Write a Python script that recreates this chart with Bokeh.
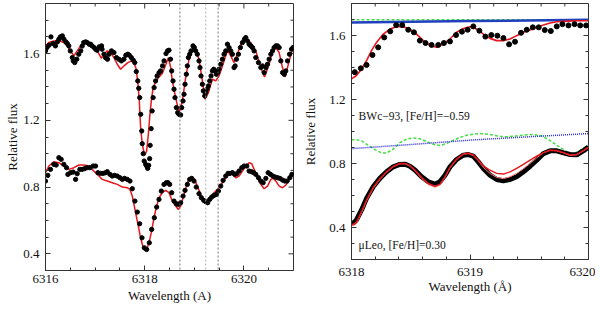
import math
from bokeh.plotting import figure
from bokeh.layouts import row
from bokeh.models import FixedTicker, Span, Range1d
from bokeh.embed import file_html
from bokeh.resources import INLINE
from bokeh.core.properties import value

# ---------------- data ----------------
# Left panel, upper spectrum: observed points and model
left_upper_obs = [
    (6316.00, 1.616), (6316.03, 1.636), (6316.07, 1.650), (6316.11, 1.700), (6316.15, 1.660),
    (6316.20, 1.646), (6316.24, 1.670), (6316.27, 1.686), (6316.30, 1.700), (6316.34, 1.706),
    (6316.37, 1.686), (6316.41, 1.670), (6316.44, 1.660), (6316.47, 1.646), (6316.50, 1.616),
    (6316.54, 1.576), (6316.56, 1.556), (6316.59, 1.546), (6316.63, 1.566), (6316.67, 1.596),
    (6316.71, 1.616), (6316.74, 1.645), (6316.77, 1.666), (6316.81, 1.670), (6316.84, 1.666),
    (6316.88, 1.656), (6316.91, 1.656), (6316.94, 1.646), (6316.98, 1.636), (6317.01, 1.626),
    (6317.04, 1.620), (6317.08, 1.640), (6317.13, 1.646), (6317.14, 1.626), (6317.18, 1.596),
    (6317.21, 1.576), (6317.25, 1.566), (6317.28, 1.596), (6317.33, 1.616), (6317.38, 1.606),
    (6317.43, 1.576), (6317.48, 1.566), (6317.53, 1.556), (6317.58, 1.566), (6317.62, 1.590),
    (6317.66, 1.596), (6317.69, 1.590), (6317.73, 1.576), (6317.77, 1.560), (6317.80, 1.546),
    (6317.83, 1.492), (6317.86, 1.436), (6317.88, 1.392), (6317.90, 1.336), (6317.92, 1.236),
    (6317.94, 1.136), (6317.95, 1.060), (6317.97, 1.000), (6317.99, 0.956), (6318.02, 0.936),
    (6318.04, 0.926), (6318.06, 0.912), (6318.08, 0.930), (6318.10, 0.970), (6318.11, 1.050),
    (6318.13, 1.150), (6318.15, 1.256), (6318.17, 1.336), (6318.19, 1.396), (6318.22, 1.436),
    (6318.25, 1.466), (6318.29, 1.486), (6318.32, 1.496), (6318.36, 1.526), (6318.39, 1.556),
    (6318.43, 1.600), (6318.46, 1.616), (6318.49, 1.620), (6318.52, 1.566), (6318.544, 1.496),
    (6318.571, 1.436), (6318.591, 1.386), (6318.611, 1.336), (6318.638, 1.276), (6318.665, 1.246),
    (6318.692, 1.236), (6318.725, 1.232), (6318.746, 1.276), (6318.773, 1.316), (6318.793, 1.356),
    (6318.813, 1.416), (6318.840, 1.476), (6318.860, 1.526), (6318.881, 1.576), (6318.907, 1.596),
    (6318.934, 1.616), (6318.974, 1.646), (6319.001, 1.636), (6319.028, 1.616), (6319.061, 1.596),
    (6319.095, 1.556), (6319.115, 1.516), (6319.135, 1.466), (6319.163, 1.416), (6319.183, 1.376),
    (6319.210, 1.346), (6319.230, 1.366), (6319.257, 1.386), (6319.284, 1.406), (6319.311, 1.436),
    (6319.338, 1.466), (6319.365, 1.496), (6319.392, 1.506), (6319.419, 1.496), (6319.445, 1.476),
    (6319.472, 1.486), (6319.499, 1.506), (6319.533, 1.536), (6319.567, 1.566), (6319.600, 1.596),
    (6319.634, 1.616), (6319.668, 1.656), (6319.701, 1.636), (6319.735, 1.616), (6319.769, 1.596),
    (6319.802, 1.516), (6319.823, 1.526), (6319.850, 1.566), (6319.890, 1.596), (6319.930, 1.636),
    (6319.971, 1.666), (6320.011, 1.686), (6320.038, 1.696), (6320.071, 1.676), (6320.105, 1.656),
    (6320.139, 1.646), (6320.172, 1.636), (6320.206, 1.616), (6320.240, 1.576), (6320.294, 1.546),
    (6320.341, 1.516), (6320.375, 1.526), (6320.408, 1.486), (6320.442, 1.516), (6320.476, 1.536),
    (6320.509, 1.566), (6320.543, 1.596), (6320.577, 1.616), (6320.610, 1.636), (6320.644, 1.646),
    (6320.678, 1.646), (6320.711, 1.636), (6320.745, 1.556), (6320.780, 1.486), (6320.812, 1.476),
    (6320.845, 1.496), (6320.880, 1.556), (6320.920, 1.596), (6320.960, 1.626), (6320.990, 1.636),
]
left_upper_model = [
    (6316.000, 1.646), (6316.067, 1.666), (6316.168, 1.676), (6316.269, 1.676), (6316.370, 1.666),
    (6316.437, 1.646), (6316.505, 1.616), (6316.572, 1.586), (6316.639, 1.616), (6316.707, 1.646),
    (6316.808, 1.666), (6316.908, 1.660), (6316.976, 1.646), (6317.043, 1.616), (6317.124, 1.572),
    (6317.178, 1.596), (6317.245, 1.616), (6317.312, 1.606), (6317.380, 1.576), (6317.447, 1.536),
    (6317.514, 1.506), (6317.581, 1.526), (6317.662, 1.546), (6317.729, 1.556), (6317.783, 1.546),
    (6317.830, 1.506), (6317.864, 1.416), (6317.891, 1.316), (6317.918, 1.156), (6317.945, 1.076),
    (6317.972, 1.026), (6318.005, 0.992), (6318.039, 1.016), (6318.073, 1.116), (6318.106, 1.236),
    (6318.140, 1.336), (6318.174, 1.400), (6318.220, 1.430), (6318.290, 1.460), (6318.355, 1.480),
    (6318.420, 1.530), (6318.477, 1.575), (6318.524, 1.516), (6318.557, 1.436), (6318.624, 1.336),
    (6318.678, 1.266), (6318.705, 1.256), (6318.760, 1.316), (6318.826, 1.456), (6318.894, 1.566),
    (6318.960, 1.616), (6319.028, 1.620), (6319.095, 1.566), (6319.163, 1.436), (6319.216, 1.326),
    (6319.284, 1.366), (6319.365, 1.446), (6319.432, 1.436), (6319.499, 1.466), (6319.600, 1.556),
    (6319.668, 1.620), (6319.735, 1.586), (6319.802, 1.546), (6319.869, 1.596), (6319.937, 1.656),
    (6320.038, 1.680), (6320.139, 1.666), (6320.240, 1.616), (6320.341, 1.516), (6320.415, 1.460),
    (6320.509, 1.536), (6320.577, 1.616), (6320.644, 1.636), (6320.711, 1.606), (6320.778, 1.516),
    (6320.832, 1.460), (6320.913, 1.556), (6320.980, 1.626), (6321.000, 1.640),
]
# Left panel, lower spectrum
left_lower_obs = [
    (6316.000, 0.836), (6316.047, 0.870), (6316.100, 0.906), (6316.168, 0.936), (6316.215, 0.932),
    (6316.269, 0.976), (6316.316, 0.966), (6316.370, 0.936), (6316.424, 0.916), (6316.451, 0.876),
    (6316.505, 0.886), (6316.559, 0.890), (6316.606, 0.846), (6316.639, 0.880), (6316.693, 0.906),
    (6316.740, 0.906), (6316.787, 0.910), (6316.841, 0.916), (6316.895, 0.916), (6316.962, 0.926),
    (6317.009, 0.926), (6317.057, 0.886), (6317.110, 0.882), (6317.164, 0.882), (6317.211, 0.886),
    (6317.245, 0.892), (6317.299, 0.876), (6317.346, 0.866), (6317.393, 0.870), (6317.447, 0.866),
    (6317.500, 0.856), (6317.548, 0.846), (6317.595, 0.852), (6317.649, 0.846), (6317.703, 0.836),
    (6317.750, 0.790), (6317.803, 0.716), (6317.851, 0.650), (6317.898, 0.580), (6317.945, 0.496),
    (6317.992, 0.436), (6318.039, 0.426), (6318.093, 0.466), (6318.140, 0.546), (6318.194, 0.616),
    (6318.241, 0.680), (6318.288, 0.726), (6318.335, 0.776), (6318.389, 0.816), (6318.436, 0.826),
    (6318.470, 0.826), (6318.503, 0.816), (6318.544, 0.766), (6318.591, 0.716), (6318.638, 0.700),
    (6318.678, 0.696), (6318.725, 0.706), (6318.773, 0.746), (6318.813, 0.780), (6318.860, 0.816),
    (6318.907, 0.846), (6318.947, 0.852), (6318.994, 0.836), (6319.040, 0.800), (6319.095, 0.760),
    (6319.142, 0.736), (6319.190, 0.720), (6319.230, 0.712), (6319.270, 0.706), (6319.311, 0.726),
    (6319.351, 0.740), (6319.398, 0.750), (6319.445, 0.756), (6319.486, 0.776), (6319.533, 0.806),
    (6319.580, 0.840), (6319.634, 0.866), (6319.681, 0.882), (6319.721, 0.882), (6319.769, 0.886),
    (6319.816, 0.876), (6319.856, 0.880), (6319.903, 0.896), (6319.957, 0.916), (6320.004, 0.926),
    (6320.058, 0.926), (6320.105, 0.896), (6320.152, 0.892), (6320.199, 0.886), (6320.240, 0.876),
    (6320.294, 0.856), (6320.341, 0.836), (6320.388, 0.826), (6320.442, 0.852), (6320.489, 0.886),
    (6320.536, 0.876), (6320.583, 0.866), (6320.630, 0.860), (6320.678, 0.856), (6320.725, 0.852),
    (6320.778, 0.842), (6320.825, 0.836), (6320.872, 0.836), (6320.926, 0.856), (6320.967, 0.876),
]
left_lower_model = [
    (6316.000, 0.886), (6316.067, 0.926), (6316.168, 0.952), (6316.269, 0.946), (6316.370, 0.926),
    (6316.471, 0.906), (6316.572, 0.916), (6316.673, 0.932), (6316.774, 0.932), (6316.875, 0.926),
    (6316.942, 0.906), (6317.009, 0.886), (6317.077, 0.866), (6317.144, 0.846), (6317.245, 0.836),
    (6317.346, 0.826), (6317.447, 0.816), (6317.548, 0.800), (6317.649, 0.796), (6317.703, 0.786),
    (6317.750, 0.746), (6317.797, 0.676), (6317.851, 0.596), (6317.904, 0.516), (6317.952, 0.456),
    (6317.999, 0.420), (6318.039, 0.426), (6318.086, 0.466), (6318.140, 0.536), (6318.187, 0.616),
    (6318.241, 0.686), (6318.288, 0.736), (6318.355, 0.766), (6318.423, 0.780), (6318.490, 0.766),
    (6318.557, 0.716), (6318.624, 0.686), (6318.678, 0.666), (6318.725, 0.686), (6318.793, 0.756),
    (6318.860, 0.826), (6318.927, 0.856), (6318.994, 0.852), (6319.061, 0.806), (6319.128, 0.756),
    (6319.196, 0.720), (6319.243, 0.712), (6319.297, 0.726), (6319.365, 0.756), (6319.432, 0.776),
    (6319.499, 0.796), (6319.567, 0.826), (6319.634, 0.856), (6319.701, 0.880), (6319.769, 0.876),
    (6319.836, 0.856), (6319.903, 0.866), (6319.971, 0.896), (6320.038, 0.926), (6320.105, 0.946),
    (6320.159, 0.940), (6320.206, 0.906), (6320.273, 0.856), (6320.341, 0.816), (6320.408, 0.790),
    (6320.476, 0.806), (6320.543, 0.846), (6320.590, 0.852), (6320.644, 0.836), (6320.711, 0.806),
    (6320.778, 0.796), (6320.845, 0.812), (6320.913, 0.846), (6320.967, 0.866), (6321.000, 0.870),
]
line_positions = [6318.71, 6319.23, 6319.48]

# Right panel: BWc-93 (upper) and mu Leo (lower)
bwc_obs = [
    (6318.028, 1.371), (6318.079, 1.395), (6318.127, 1.416), (6318.177, 1.478), (6318.225, 1.526),
    (6318.276, 1.588), (6318.327, 1.626), (6318.377, 1.665), (6318.428, 1.665), (6318.479, 1.636),
    (6318.527, 1.620), (6318.577, 1.568), (6318.625, 1.553), (6318.676, 1.541), (6318.732, 1.541),
    (6318.780, 1.553), (6318.831, 1.563), (6318.882, 1.603), (6318.932, 1.624), (6318.980, 1.636),
    (6319.028, 1.657), (6319.079, 1.630), (6319.130, 1.593), (6319.180, 1.603), (6319.231, 1.599),
    (6319.282, 1.584), (6319.330, 1.545), (6319.380, 1.561), (6319.431, 1.617), (6319.479, 1.636),
    (6319.530, 1.651), (6319.580, 1.651), (6319.631, 1.634), (6319.682, 1.628), (6319.732, 1.657),
    (6319.780, 1.671), (6319.831, 1.663), (6319.882, 1.671), (6319.930, 1.663), (6319.980, 1.663),
]
bwc_model = [
    (6318.000, 1.329), (6318.042, 1.350), (6318.085, 1.391), (6318.127, 1.443), (6318.169, 1.505),
    (6318.211, 1.557), (6318.268, 1.609), (6318.324, 1.640), (6318.380, 1.655), (6318.437, 1.655),
    (6318.493, 1.640), (6318.549, 1.609), (6318.606, 1.568), (6318.662, 1.537), (6318.718, 1.526),
    (6318.775, 1.547), (6318.831, 1.578), (6318.887, 1.620), (6318.944, 1.644), (6319.000, 1.655),
    (6319.056, 1.640), (6319.113, 1.609), (6319.169, 1.582), (6319.225, 1.568), (6319.282, 1.568),
    (6319.338, 1.578), (6319.394, 1.599), (6319.451, 1.620), (6319.507, 1.634), (6319.563, 1.651),
    (6319.620, 1.665), (6319.676, 1.678), (6319.732, 1.686), (6319.789, 1.688), (6319.901, 1.692),
    (6320.000, 1.692),
]
bwc_blue = [(6318.0, 1.682), (6319.0, 1.690), (6320.0, 1.698)]
bwc_green = [(6318.0, 1.699), (6319.0, 1.698), (6320.0, 1.698)]

muleo_obs = [
    (6318.000, 0.437), (6318.014, 0.427), (6318.042, 0.447), (6318.085, 0.510), (6318.127, 0.582),
    (6318.183, 0.655), (6318.239, 0.707), (6318.296, 0.748), (6318.352, 0.779), (6318.408, 0.794),
    (6318.451, 0.796), (6318.493, 0.783), (6318.535, 0.759), (6318.592, 0.717), (6318.648, 0.686),
    (6318.704, 0.671), (6318.746, 0.686), (6318.789, 0.727), (6318.831, 0.779), (6318.887, 0.825),
    (6318.944, 0.852), (6318.986, 0.856), (6319.028, 0.846), (6319.070, 0.810), (6319.113, 0.769),
    (6319.169, 0.727), (6319.225, 0.700), (6319.282, 0.692), (6319.338, 0.700), (6319.394, 0.717),
    (6319.451, 0.748), (6319.507, 0.783), (6319.563, 0.821), (6319.620, 0.862), (6319.676, 0.879),
    (6319.732, 0.879), (6319.789, 0.866), (6319.845, 0.856), (6319.901, 0.854), (6319.958, 0.880),
    (6320.000, 0.904),
]
muleo_model_a = [
    (6318.000, 0.416), (6318.014, 0.410), (6318.042, 0.427), (6318.085, 0.493), (6318.127, 0.566),
    (6318.183, 0.644), (6318.239, 0.700), (6318.296, 0.744), (6318.352, 0.779), (6318.408, 0.798),
    (6318.451, 0.798), (6318.493, 0.783), (6318.535, 0.754), (6318.592, 0.707), (6318.648, 0.669),
    (6318.704, 0.651), (6318.746, 0.665), (6318.789, 0.713), (6318.831, 0.773), (6318.887, 0.825),
    (6318.944, 0.858), (6318.986, 0.862), (6319.028, 0.850), (6319.070, 0.817), (6319.113, 0.775),
    (6319.169, 0.738), (6319.225, 0.713), (6319.282, 0.705), (6319.338, 0.717), (6319.394, 0.738),
    (6319.451, 0.767), (6319.507, 0.800), (6319.563, 0.835), (6319.620, 0.868), (6319.676, 0.883),
    (6319.732, 0.879), (6319.789, 0.866), (6319.845, 0.850), (6319.901, 0.854), (6319.958, 0.879),
    (6320.000, 0.900),
]
muleo_model_b = [
    (6318.000, 0.422), (6318.014, 0.418), (6318.042, 0.433), (6318.085, 0.499), (6318.127, 0.572),
    (6318.183, 0.650), (6318.239, 0.705), (6318.296, 0.748), (6318.352, 0.782), (6318.408, 0.800),
    (6318.451, 0.801), (6318.493, 0.787), (6318.535, 0.759), (6318.592, 0.713), (6318.648, 0.675),
    (6318.704, 0.659), (6318.746, 0.670), (6318.789, 0.717), (6318.831, 0.776), (6318.887, 0.828),
    (6318.944, 0.860), (6318.986, 0.864), (6319.028, 0.853), (6319.070, 0.822), (6319.113, 0.785),
    (6319.169, 0.758), (6319.225, 0.738), (6319.282, 0.734), (6319.338, 0.748), (6319.394, 0.769),
    (6319.451, 0.794), (6319.507, 0.821), (6319.563, 0.846), (6319.620, 0.868), (6319.676, 0.883),
    (6319.732, 0.881), (6319.789, 0.868), (6319.845, 0.853), (6319.901, 0.857), (6319.958, 0.882),
    (6320.000, 0.902),
]
muleo_green = [
    (6318.000, 0.949), (6318.042, 0.949), (6318.085, 0.941), (6318.141, 0.914), (6318.197, 0.887),
    (6318.254, 0.866), (6318.296, 0.866), (6318.352, 0.890), (6318.408, 0.930), (6318.465, 0.952),
    (6318.521, 0.960), (6318.577, 0.955), (6318.634, 0.937), (6318.690, 0.920), (6318.746, 0.912),
    (6318.803, 0.925), (6318.859, 0.945), (6318.915, 0.963), (6318.972, 0.976), (6319.028, 0.983),
    (6319.085, 0.987), (6319.141, 0.984), (6319.197, 0.977), (6319.254, 0.970), (6319.310, 0.967),
    (6319.366, 0.970), (6319.423, 0.975), (6319.479, 0.979), (6319.535, 0.981), (6319.592, 0.975),
    (6319.648, 0.956), (6319.704, 0.929), (6319.761, 0.900), (6319.817, 0.873), (6319.859, 0.862),
    (6319.901, 0.870), (6319.958, 0.897), (6320.000, 0.914),
]
muleo_blue = [(6318.0, 0.893), (6318.49, 0.918), (6319.06, 0.949), (6319.62, 0.972), (6320.0, 0.987)]

star_labels = ["BWc\u221293, [Fe/H]=\u22120.59", "\u03bcLeo, [Fe/H]=0.30"]
star_label_x = [6318.06, 6318.06]
star_label_y = [1.096, 0.292]

left_xticks = [6316, 6318, 6320]
left_xminor = [6316.5, 6317, 6317.5, 6318.5, 6319, 6319.5, 6320.5]
left_yticks = [0.4, 0.8, 1.2, 1.6]
left_yminor = [0.5, 0.6, 0.7, 0.9, 1.0, 1.1, 1.3, 1.4, 1.5, 1.7, 1.8]
right_xticks = [6318, 6319, 6320]
right_xminor = [6318.2, 6318.4, 6318.6, 6318.8, 6319.2, 6319.4, 6319.6, 6319.8]
right_yticks = [0.4, 0.8, 1.2, 1.6]
right_yminor = [0.3, 0.5, 0.6, 0.7, 0.9, 1.0, 1.1, 1.3, 1.4, 1.5, 1.7]

# ---------------- plotting ----------------
FONT = "Liberation Serif"
RED = "#e8161c"
AX = "#333333"


def xy(pairs):
    return [a for a, _ in pairs], [b for _, b in pairs]


def style(p, xticks, xminor, yticks, yminor, xlabel, ylabel, xls, yls):
    p.xgrid.visible = False
    p.ygrid.visible = False
    p.outline_line_color = AX
    p.outline_line_width = 1
    p.background_fill_color = "white"
    p.border_fill_color = "white"
    p.xaxis.ticker = FixedTicker(ticks=xticks, minor_ticks=xminor)
    p.yaxis.ticker = FixedTicker(ticks=yticks, minor_ticks=yminor)
    p.xaxis.axis_label = xlabel
    p.yaxis.axis_label = ylabel
    for ax in list(p.xaxis) + list(p.yaxis):
        ax.axis_line_color = AX
        ax.major_tick_in = 5
        ax.major_tick_out = 0
        ax.minor_tick_in = 3
        ax.minor_tick_out = 0
        ax.major_tick_line_color = AX
        ax.minor_tick_line_color = AX
        ax.major_label_text_font = FONT
        ax.major_label_text_font_size = "13px"
        ax.major_label_text_color = "#111111"
        ax.axis_label_text_font = FONT
        ax.axis_label_text_font_size = "13px"
        ax.axis_label_text_font_style = "normal"
        ax.axis_label_text_color = "#111111"
    p.xaxis.major_label_standoff = xls[0]
    p.xaxis.axis_label_standoff = xls[1]
    p.yaxis.major_label_standoff = yls[0]
    p.yaxis.axis_label_standoff = yls[1]
    # mirrored inward ticks on the top and right frame edges
    top = p.y_range.end
    rgt = p.x_range.end
    p.ray(x=xticks, y=[top] * len(xticks), length=5, angle=-math.pi / 2,
          length_units="screen", line_color=AX, line_width=1)
    p.ray(x=xminor, y=[top] * len(xminor), length=3, angle=-math.pi / 2,
          length_units="screen", line_color=AX, line_width=1)
    p.ray(x=[rgt] * len(yticks), y=yticks, length=5, angle=math.pi,
          length_units="screen", line_color=AX, line_width=1)
    p.ray(x=[rgt] * len(yminor), y=yminor, length=3, angle=math.pi,
          length_units="screen", line_color=AX, line_width=1)


# Left figure
pl = figure(frame_width=248, frame_height=267, x_range=Range1d(6316, 6321), y_range=Range1d(0.3, 1.9),
            output_backend="svg", toolbar_location=None,
            min_border_left=45, min_border_right=7, min_border_top=3, min_border_bottom=39)
style(pl, left_xticks, left_xminor, left_yticks, left_yminor,
      "Wavelength (A)", "Relative flux", (4, 2), (6, 0))

for i, xp in enumerate(line_positions):
    pl.add_layout(Span(location=xp, dimension="height",
                       line_color="#aaaaaa" if i == 1 else "#666666",
                       line_dash="2 2", line_width=0.9))

x, y = xy(left_upper_model)
pl.line(x, y, line_color=RED, line_width=1.5)
x, y = xy(left_lower_model)
pl.line(x, y, line_color=RED, line_width=1.5)
x, y = xy(left_upper_obs)
pl.scatter(x, y, marker="circle", size=4.3, color="black")
x, y = xy(left_lower_obs)
pl.scatter(x, y, marker="circle", size=4.3, color="black")

# Right figure
pr = figure(frame_width=237, frame_height=256, x_range=Range1d(6318, 6320), y_range=Range1d(0.2, 1.8),
            output_backend="svg", toolbar_location=None,
            min_border_left=48, min_border_right=7, min_border_top=3, min_border_bottom=50)
style(pr, right_xticks, right_xminor, right_yticks, right_yminor,
      "Wavelength (\u00c5)", "Relative flux", (8, 0), (6, 8))

x, y = xy(bwc_green)
pr.line(x, y, line_color="#44dd44", line_width=1.5, line_dash="3 2")
x, y = xy(bwc_blue)
pr.line(x, y, line_color="#1f3fbf", line_width=2.5)
x, y = xy(bwc_model)
pr.line(x, y, line_color=RED, line_width=1.6)
x, y = xy(bwc_obs)
pr.scatter(x, y, marker="circle", size=5, color="black")

x, y = xy(muleo_green)
pr.line(x, y, line_color="#44dd44", line_width=1.5, line_dash="3 2")
x, y = xy(muleo_blue)
pr.line(x, y, line_color="#2a2ad6", line_width=1.5, line_dash="1 1")
x, y = xy(muleo_obs)
pr.line(x, y, line_color="black", line_width=5)
x, y = xy(muleo_model_a)
pr.line(x, y, line_color="#ff7070", line_width=1.0)
x, y = xy(muleo_model_b)
pr.line(x, y, line_color=RED, line_width=1.4)

pr.text(star_label_x, star_label_y, text=star_labels, text_font=value(FONT),
        text_font_size="11.5px", text_baseline="middle", text_align="left", text_color="#111111")

layout = row(pl, pr)
open("out.html", "w").write(file_html(layout, INLINE))
